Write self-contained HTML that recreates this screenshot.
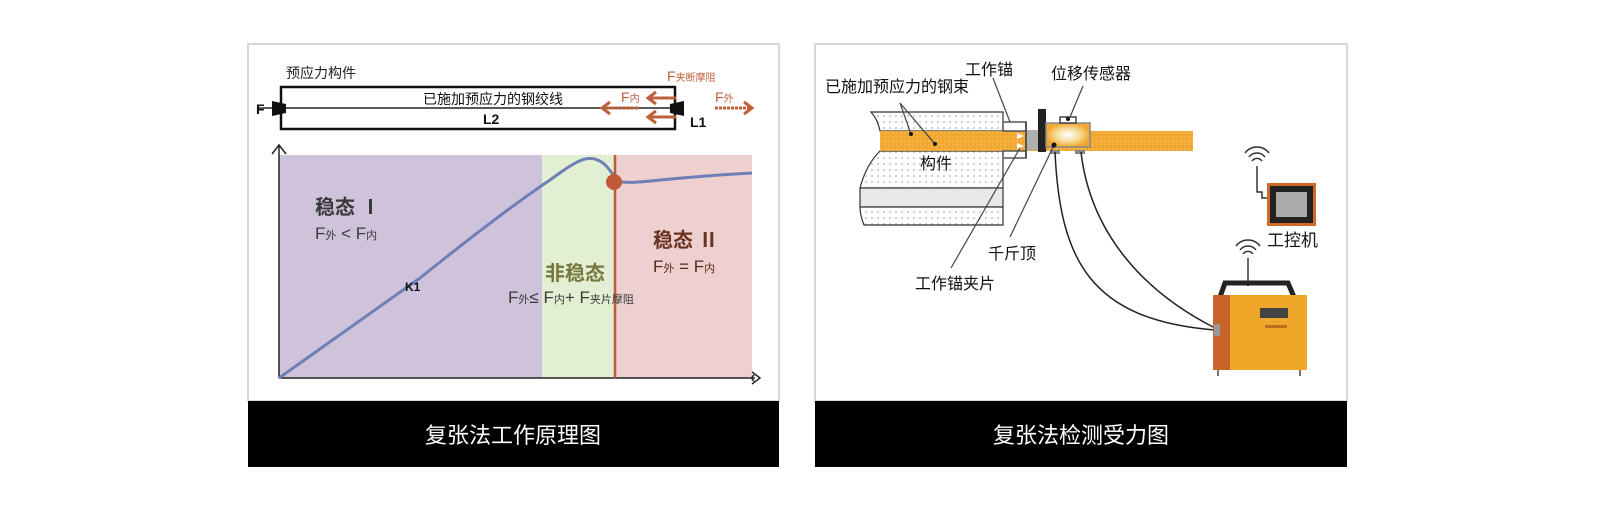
<!DOCTYPE html>
<html><head><meta charset="utf-8"><style>
html,body{margin:0;padding:0;background:#fff;}
svg{display:block;font-family:"Liberation Sans","Noto Sans CJK SC",sans-serif;}
</style></head><body>
<svg width="1600" height="519" viewBox="0 0 1600 519" xmlns="http://www.w3.org/2000/svg">
<defs>
<pattern id="dots" width="6" height="6" patternUnits="userSpaceOnUse"><rect width="6" height="6" fill="#fff"/><circle cx="2" cy="2" r="0.8" fill="#999"/></pattern>
<pattern id="odots" width="4" height="4" patternUnits="userSpaceOnUse"><rect width="4" height="4" fill="#f2a830"/><circle cx="1" cy="1" r="0.6" fill="#f8d080"/></pattern>
<radialGradient id="glow"><stop offset="0" stop-color="#fff"/><stop offset="0.5" stop-color="#f5e0a0"/><stop offset="1" stop-color="#f2a830"/></radialGradient>
</defs>

<!-- LEFT PANEL -->
<rect x="248" y="44" width="531" height="357" fill="#fff" stroke="#d8d8d8" stroke-width="2"/>
<rect x="248" y="401" width="531" height="66" fill="#000"/>
<text x="513" y="443" font-size="22" fill="#fff" text-anchor="middle">复张法工作原理图</text>

<text x="286" y="78" font-size="14" fill="#222">预应力构件</text>
<rect x="281" y="87" width="394" height="42" fill="#fff" stroke="#111" stroke-width="2.5"/>
<line x1="258" y1="108" x2="684" y2="108" stroke="#222" stroke-width="1.5"/>
<text x="256" y="114" font-size="14" font-weight="bold" fill="#111">F</text>
<polygon points="272,101 286,104 286,113 272,116" fill="#111"/>
<polygon points="670,104 684,101 684,116 670,113" fill="#111"/>
<text x="493" y="104" font-size="14" fill="#111" text-anchor="middle">已施加预应力的钢绞线</text>
<text x="483" y="124" font-size="14" font-weight="bold" fill="#111">L2</text>
<text x="690" y="127" font-size="14" font-weight="bold" fill="#111">L1</text>
<g stroke="#c0603a" stroke-width="3" fill="none">
<line x1="638" y1="108" x2="604" y2="108" stroke-dasharray="3 1"/>
<polyline points="610,102 602,108 610,114"/>
<line x1="676" y1="98" x2="650" y2="98"/>
<polyline points="656,92 648,98 656,104"/>
<line x1="676" y1="117" x2="650" y2="117"/>
<polyline points="656,111 648,117 656,123"/>
<line x1="715" y1="108" x2="750" y2="108" stroke-dasharray="3 1"/>
<polyline points="744,102 752,108 744,114"/>
</g>
<text x="621" y="102" font-size="14" fill="#c0603a">F<tspan font-size="10">内</tspan></text>
<text x="715" y="102" font-size="14" fill="#c0603a">F<tspan font-size="10">外</tspan></text>
<text x="667" y="81" font-size="14" fill="#c0603a">F<tspan font-size="10">夹断摩阻</tspan></text>

<!-- chart -->
<rect x="279" y="155" width="263" height="223" fill="#cfc3dc"/>
<rect x="542" y="155" width="73" height="223" fill="#e2efd2"/>
<rect x="615" y="155" width="137" height="223" fill="#eed0d0"/>
<line x1="279" y1="378" x2="279" y2="146" stroke="#222" stroke-width="1.5"/>
<polyline points="272,154 279,145 286,154" fill="none" stroke="#222" stroke-width="1.5"/>
<line x1="279" y1="378" x2="755" y2="378" stroke="#222" stroke-width="1.5"/>
<path d="M752,372 L760,378 L752,384 M754,375 q-4,3 0,6" fill="none" stroke="#222" stroke-width="1.5"/>
<line x1="615" y1="155" x2="615" y2="378" stroke="#c05a38" stroke-width="2.5"/>
<path d="M279,378 L420,278 C480,230 520,200 550,180 C575,162 588,152 603,163 C612,170 614,180 622,182 C640,184 660,178 752,173" fill="none" stroke="#6e7fb8" stroke-width="3"/>
<circle cx="614" cy="182" r="8" fill="#c05a38"/>
<text x="315" y="214" font-size="20" font-weight="bold" fill="#3a3a3a">稳态 Ⅰ</text>
<text x="315" y="239" font-size="17" fill="#3a3a3a">F<tspan font-size="11">外</tspan> &lt; F<tspan font-size="11">内</tspan></text>
<text x="405" y="291" font-size="12" font-weight="bold" fill="#111">K1</text>
<text x="545" y="280" font-size="20" font-weight="bold" fill="#77773e">非稳态</text>
<text x="508" y="303" font-size="17" fill="#3a3a3a">F<tspan font-size="11">外</tspan>≤ F<tspan font-size="11">内</tspan>+ F<tspan font-size="11">夹片摩阻</tspan></text>
<text x="653" y="247" font-size="20" font-weight="bold" fill="#6a3420">稳态 Ⅱ</text>
<text x="653" y="272" font-size="17" fill="#5a2a18">F<tspan font-size="11">外</tspan> = F<tspan font-size="11">内</tspan></text>

<!-- RIGHT PANEL -->
<rect x="815" y="44" width="532" height="357" fill="#fff" stroke="#d8d8d8" stroke-width="2"/>
<rect x="815" y="401" width="532" height="66" fill="#000"/>
<text x="1081" y="443" font-size="22" fill="#fff" text-anchor="middle">复张法检测受力图</text>

<!-- member -->
<path d="M871,112 L1003,112 L1003,131 L880,131 Q878,120 871,112 Z" fill="url(#dots)" stroke="#333" stroke-width="1.2"/>
<path d="M880,151 L1003,151 L1003,188 L860,188 Q866,165 880,151 Z" fill="url(#dots)" stroke="#333" stroke-width="1.2"/>
<rect x="860" y="188" width="143" height="19" fill="#e8e8e8" stroke="#333" stroke-width="1.2"/>
<path d="M860,207 L1003,207 L1003,225 L864,225 Q860,215 860,207 Z" fill="url(#dots)" stroke="#333" stroke-width="1.2"/>
<rect x="880" y="131" width="313" height="20" fill="url(#odots)"/>
<text x="920" y="169" font-size="16" fill="#111">构件</text>
<!-- anchor -->
<rect x="1003" y="122" width="23" height="9" fill="#fff" stroke="#555" stroke-width="1.5"/>
<rect x="1003" y="151" width="23" height="7" fill="#fff" stroke="#555" stroke-width="1.5"/>
<line x1="1026" y1="122" x2="1026" y2="158" stroke="#555" stroke-width="2"/>
<polygon points="1017,133 1024,136 1017,139" fill="#fff"/>
<polygon points="1017,143 1024,146 1017,149" fill="#fff"/>
<rect x="1027" y="130" width="12" height="20" fill="#b0b0b0"/>
<rect x="1038" y="109" width="8" height="43" fill="#222"/>
<rect x="1046" y="123" width="44" height="24" fill="url(#glow)" stroke="#888" stroke-width="1.5"/>
<rect x="1060" y="117" width="16" height="6" fill="#fff" stroke="#444" stroke-width="1.5"/>
<circle cx="1068" cy="119" r="2" fill="#111"/>
<rect x="1050" y="150" width="10" height="4" fill="#888"/>
<rect x="1075" y="150" width="10" height="4" fill="#888"/>
<!-- leaders -->
<g stroke="#444" stroke-width="1.2" fill="none">
<line x1="900" y1="103" x2="911" y2="134"/>
<line x1="900" y1="103" x2="935" y2="144"/>
<line x1="993" y1="78" x2="1010" y2="122"/>
<line x1="1083" y1="86" x2="1070" y2="117"/>
<line x1="1010" y1="237" x2="1054" y2="145"/>
<line x1="951" y1="268" x2="1020" y2="148"/>
</g>
<circle cx="911" cy="134" r="2" fill="#111"/><circle cx="935" cy="144" r="2" fill="#111"/>
<circle cx="1054" cy="145" r="2.5" fill="#111"/>
<text x="965" y="75" font-size="16" fill="#111">工作锚</text>
<text x="825" y="92" font-size="16" fill="#111">已施加预应力的钢束</text>
<text x="1051" y="79" font-size="16" fill="#111">位移传感器</text>
<text x="988" y="259" font-size="16" fill="#111">千斤顶</text>
<text x="915" y="289" font-size="16" fill="#111">工作锚夹片</text>
<!-- cables -->
<path d="M1055,152 C1060,260 1090,320 1215,330" fill="none" stroke="#222" stroke-width="1.5"/>
<path d="M1081,152 C1090,230 1140,290 1215,328" fill="none" stroke="#222" stroke-width="1.5"/>
<!-- controller -->
<g fill="none" stroke="#333" stroke-width="1.5">
<path d="M1249,157 a10,10 0 0 1 16,0"/><path d="M1245,153 a15,15 0 0 1 24,0"/><path d="M1252,161 a6,6 0 0 1 10,0"/>
<polyline points="1257,166 1257,192 1262,192 1262,198 1267,198"/>
</g>
<rect x="1267" y="183" width="49" height="43" fill="#d06a28"/>
<rect x="1270" y="186" width="43" height="37" fill="#222"/>
<rect x="1276" y="192" width="31" height="25" fill="#aaa"/>
<text x="1267" y="246" font-size="17" fill="#111">工控机</text>
<!-- device -->
<g fill="none" stroke="#333" stroke-width="1.5">
<path d="M1240,250 a10,10 0 0 1 16,0"/><path d="M1236,246 a15,15 0 0 1 24,0"/><path d="M1243,254 a6,6 0 0 1 10,0"/>
<line x1="1248" y1="258" x2="1248" y2="286"/>
</g>
<path d="M1220,297 L1225,283 L1288,283 L1294,297" fill="none" stroke="#222" stroke-width="5"/>
<rect x="1213" y="295" width="94" height="75" fill="#f0a628"/>
<rect x="1213" y="295" width="17" height="75" fill="#c8642a"/>
<rect x="1260" y="308" width="28" height="10" fill="#444"/>
<rect x="1265" y="325" width="22" height="3" fill="#b87020"/>
<rect x="1214" y="324" width="6" height="12" fill="#999"/>
<line x1="1218" y1="370" x2="1218" y2="376" stroke="#777" stroke-width="2"/>
<line x1="1300" y1="370" x2="1300" y2="376" stroke="#777" stroke-width="2"/>
</svg>
</body></html>
